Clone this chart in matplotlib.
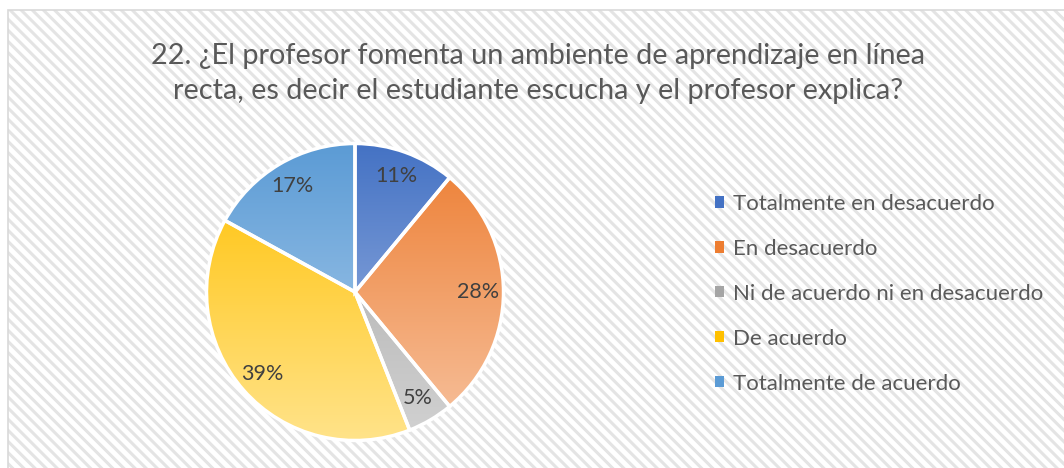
import matplotlib.pyplot as plt
import matplotlib.colors as mcolors
from matplotlib.patches import Rectangle, Patch
import numpy as np

# chart data
categories = ["Totalmente en desacuerdo", "En desacuerdo",
              "Ni de acuerdo ni en desacuerdo", "De acuerdo",
              "Totalmente de acuerdo"]
percents = [11, 28, 5, 39, 17]
title = ("22. ¿El profesor fomenta un ambiente de aprendizaje en línea\n"
         "recta, es decir el estudiante escucha y el profesor explica?")

# gradient colours, top -> bottom of the pie
top_colors = ["#4472C4", "#ED7D31", "#A5A5A5", "#FFC000", "#5B9BD5"]
bottom_colors = ["#A9BEE6", "#F7C3A0", "#D2D2D2", "#FFE38A", "#B4D2EE"]

plt.rcParams['font.family'] = ['Lato', 'DejaVu Sans']
plt.rcParams['hatch.linewidth'] = 2.2

W, H = 1064, 468
fig = plt.figure(figsize=(W / 100, H / 100), dpi=100)
fig.patch.set_facecolor('white')

# striped chart-area background and thin border
bg = Rectangle((8 / W, 0), 1 - 8 / W, 1 - 10 / H, transform=fig.transFigure,
               facecolor='white', edgecolor='#e4e4e4', hatch='\\\\\\',
               linewidth=0, zorder=-2)
fig.patches.append(bg)
border = Rectangle((8 / W, -0.01), 1 - 8 / W + 0.01, 1 - 10 / H + 0.01,
                   transform=fig.transFigure, facecolor='none',
                   edgecolor='#d9d9d9', linewidth=1.2, zorder=-1)
fig.patches.append(border)

fig.text(538 / W, 1 - 43 / H, title, ha='center', va='top', fontsize=20.8,
         color='#595959', linespacing=1.45)

# pie axes: centre (355, 292), radius ~148 px
cx, cy, r = 355, 292, 150
ax = fig.add_axes([(cx - r) / W, (H - cy - r) / H, 2 * r / W, 2 * r / H])
ax.axis('off')

wedges, texts, autotexts = ax.pie(percents, startangle=90, counterclock=False,
                                  radius=1, autopct='%1.0f%%', pctdistance=0.83,
                                  wedgeprops=dict(edgecolor='white', linewidth=2.5),
                                  textprops=dict(color='#404040', fontsize=15.5))

for w, c1, c2 in zip(wedges, top_colors, bottom_colors):
    a = np.array(mcolors.to_rgb(c1))
    b = np.array(mcolors.to_rgb(c2))
    t = np.linspace(0, 1, 256)[:, None, None]
    img = a * (1 - t) + b * t
    im = ax.imshow(img, extent=(-1, 1, -1, 1), aspect='auto', zorder=1,
                   interpolation='bilinear')
    im.set_clip_path(w)
    w.set_facecolor('none')
    w.set_zorder(2)
for t in autotexts:
    t.set_zorder(3)
ax.set_xlim(-1.01, 1.01)
ax.set_ylim(-1.01, 1.01)
ax.set_aspect('equal')

handles = [Patch(facecolor=c, edgecolor='none') for c in top_colors]
fig.legend(handles, categories, loc='upper left',
           bbox_to_anchor=(695 / W, 1 - 174 / H), frameon=False,
           fontsize=16, labelcolor='#595959', handlelength=0.4,
           handleheight=0.4, handletextpad=0.4, labelspacing=1.12)

fig.savefig('out.png', dpi=100)
